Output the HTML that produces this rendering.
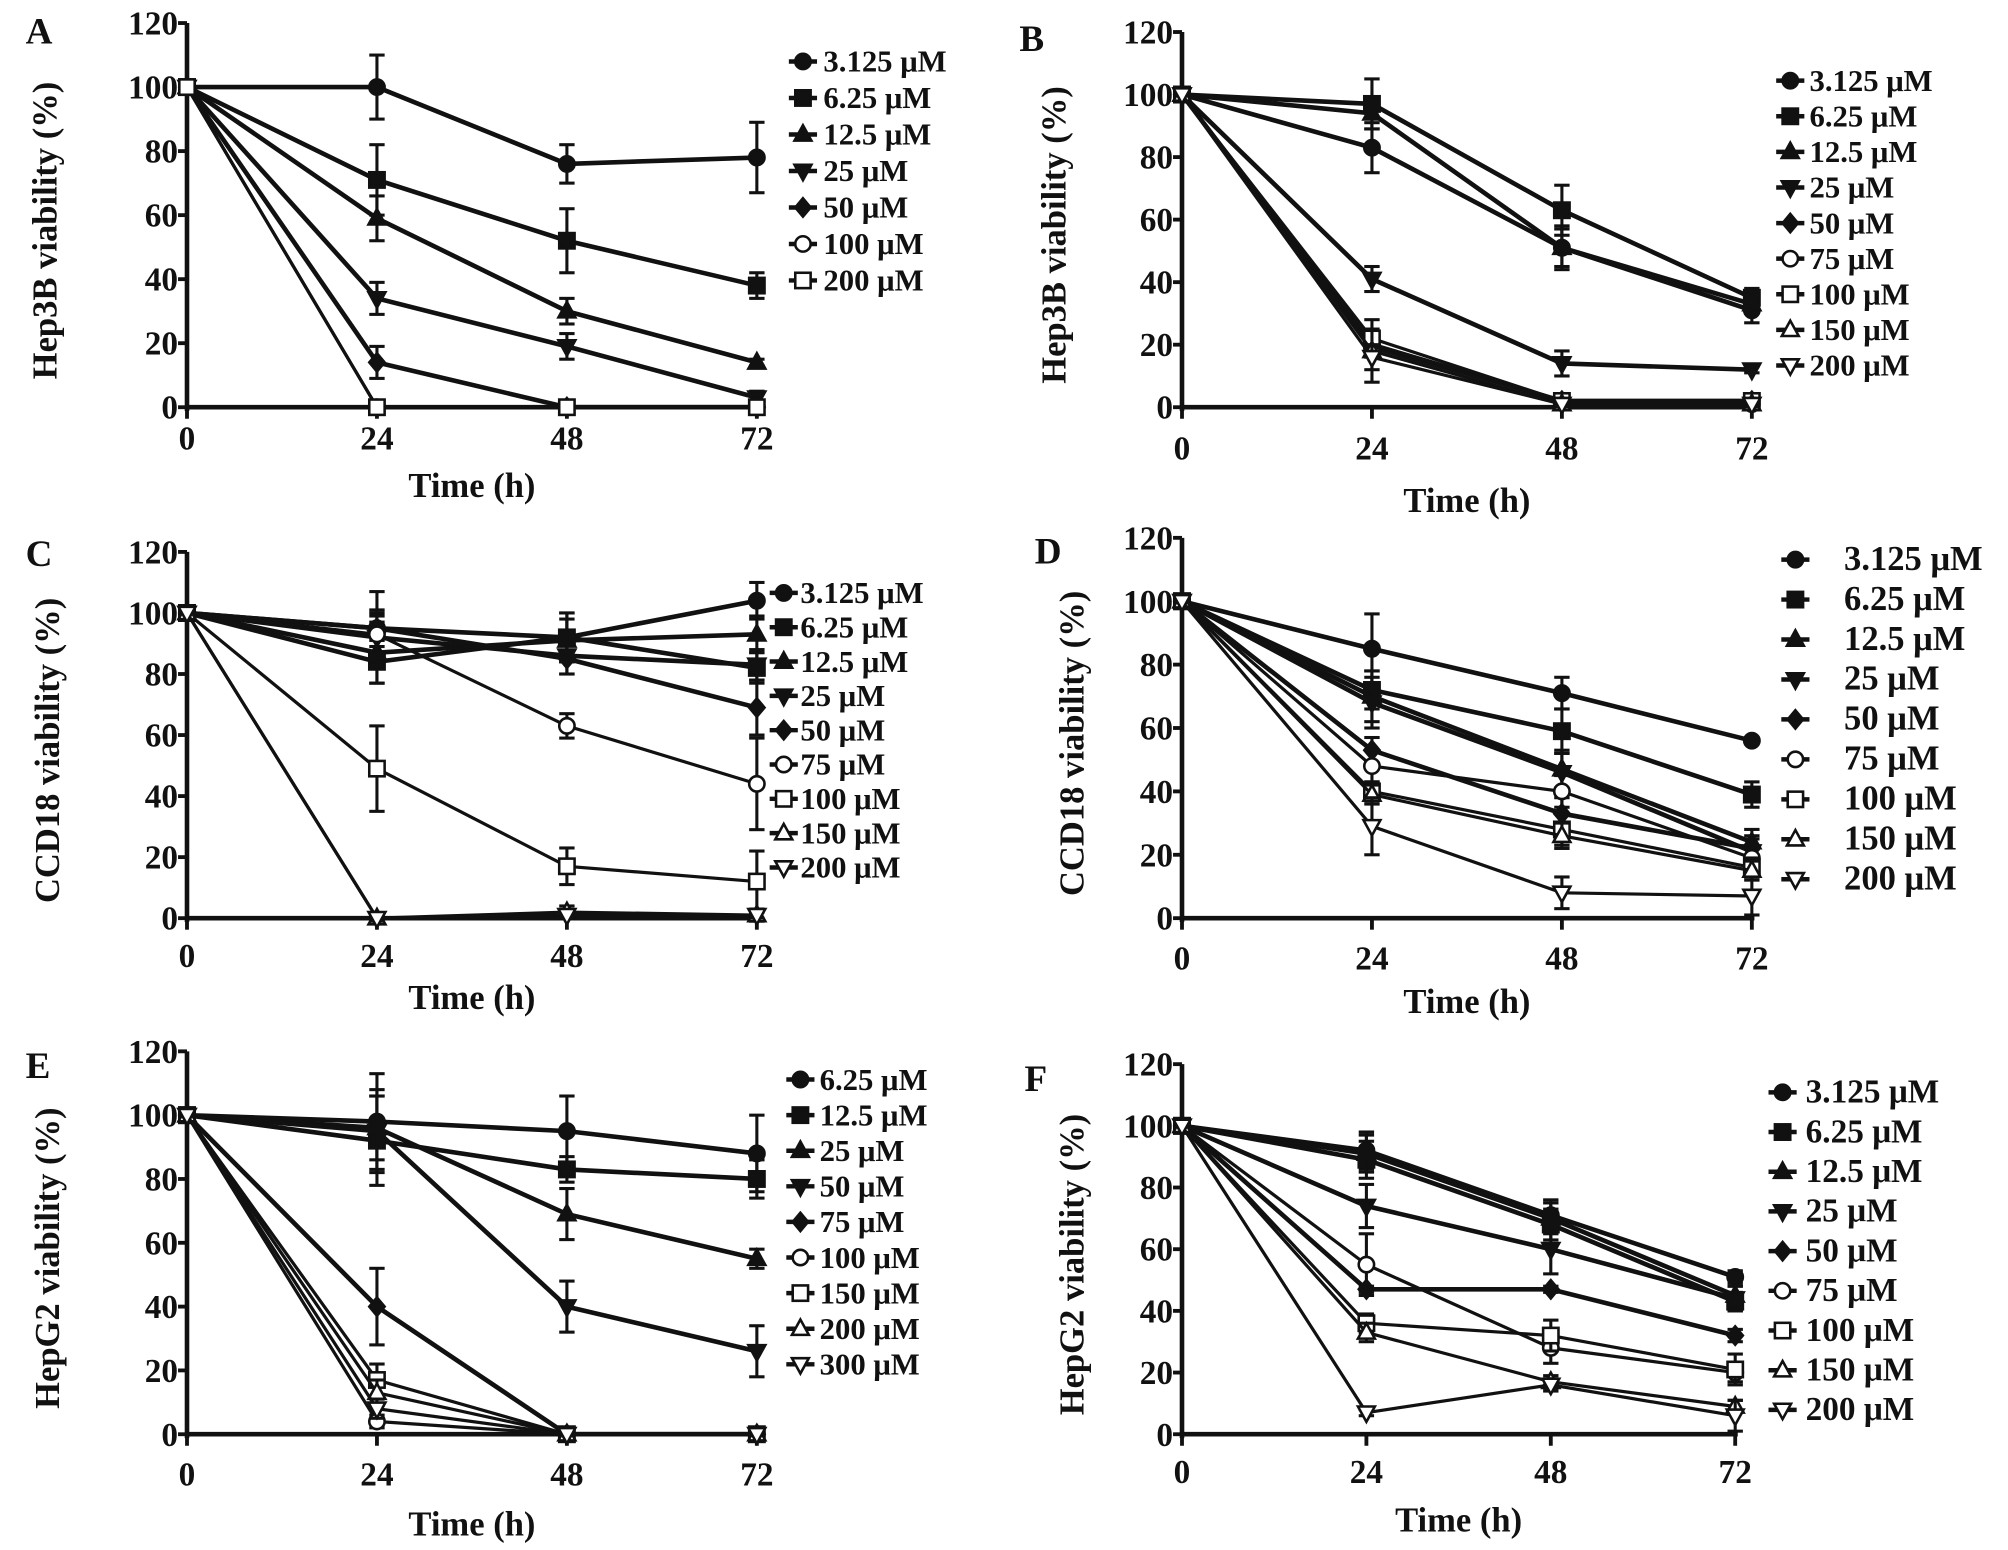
<!DOCTYPE html>
<html><head><meta charset="utf-8"><style>
html,body{margin:0;padding:0;background:#fff;}
svg{display:block;}
text{font-family:"Liberation Serif","Times New Roman",serif;font-weight:bold;fill:#111;}
</style></head><body>
<svg id="fig" width="2008" height="1550" viewBox="0 0 1568 1210.4" xmlns="http://www.w3.org/2000/svg"></svg>
<script>
const timePoints = [0, 24, 48, 72];
const yTicks = [0, 20, 40, 60, 80, 100, 120];
const xTickLabels = ["0", "24", "48", "72"];

const aLabels = ["3.125 μM","6.25 μM","12.5 μM","25 μM","50 μM","100 μM","200 μM"];
const aValues = [[100,100,76,78],[100,71,52,38],[100,59,30,14],[100,34,19,3],[100,14,0,0],[100,0,0,0],[100,0,0,0]];
const aErrors = [[0,10,6,11],[0,11,10,4],[0,7,4,1],[0,5,4,2],[0,5,1,1],[0,0,0,0],[0,0,0,0]];
const aMarkers = ["circle","square","tri","dtri","diamond","ocircle","osquare"];

const bLabels = ["3.125 μM","6.25 μM","12.5 μM","25 μM","50 μM","75 μM","100 μM","150 μM","200 μM"];
const bValues = [[100,83,51,31],[100,97,63,35],[100,94,51,33],[100,41,14,12],[100,20,2,2],[100,19,2,1],[100,22,2,2],[100,18,1,1],[100,16,1,1]];
const bErrors = [[0,8,7,4],[0,8,8,3],[0,5,6,3],[0,4,4,1],[0,3,1,1],[0,3,1,1],[0,3,1,1],[0,10,1,1],[0,4,1,1]];
const bMarkers = ["circle","square","tri","dtri","diamond","ocircle","osquare","otri","odtri"];

const cLabels = ["3.125 μM","6.25 μM","12.5 μM","25 μM","50 μM","75 μM","100 μM","150 μM","200 μM"];
const cValues = [[100,95,92,104],[100,84,92,82],[100,87,91,93],[100,92,86,83],[100,95,85,69],[100,93,63,44],[100,49,17,12],[100,0,2,1],[100,0,1,1]];
const cErrors = [[0,12,8,6],[0,7,8,5],[0,10,7,6],[0,8,6,5],[0,6,5,9],[0,6,4,15],[0,14,6,10],[0,1,2,2],[0,1,1,1]];
const cMarkers = ["circle","square","tri","dtri","diamond","ocircle","osquare","otri","odtri"];

const dLabels = ["3.125 μM","6.25 μM","12.5 μM","25 μM","50 μM","75 μM","100 μM","150 μM","200 μM"];
const dValues = [[100,85,71,56],[100,72,59,39],[100,70,47,24],[100,68,46,21],[100,53,33,22],[100,48,40,19],[100,40,28,16],[100,39,26,15],[100,29,8,7]];
const dErrors = [[0,11,5,1],[0,6,7,4],[0,8,6,4],[0,8,6,4],[0,4,5,4],[0,5,5,4],[0,3,5,3],[0,3,4,3],[0,9,5,6]];
const dMarkers = ["circle","square","tri","dtri","diamond","ocircle","osquare","otri","odtri"];

const eLabels = ["6.25 μM","12.5 μM","25 μM","50 μM","75 μM","100 μM","150 μM","200 μM","300 μM"];
const eValues = [[100,98,95,88],[100,92,83,80],[100,96,69,55],[100,95,40,26],[100,40,0,0],[100,4,0,0],[100,17,0,0],[100,13,0,0],[100,8,0,0]];
const eErrors = [[0,15,11,12],[0,14,4,6],[0,10,8,3],[0,13,8,8],[0,12,1,1],[0,2,0,0],[0,5,0,0],[0,4,0,0],[0,3,0,0]];
const eMarkers = ["circle","square","tri","dtri","diamond","ocircle","osquare","otri","odtri"];

const fLabels = ["3.125 μM","6.25 μM","12.5 μM","25 μM","50 μM","75 μM","100 μM","150 μM","200 μM"];
const fValues = [[100,92,71,51],[100,89,68,43],[100,91,70,45],[100,74,60,44],[100,47,47,32],[100,55,28,20],[100,36,32,21],[100,33,17,9],[100,7,16,6]];
const fErrors = [[0,6,5,2],[0,6,5,3],[0,6,5,3],[0,7,8,4],[0,1,1,2],[0,10,5,3],[0,3,5,5],[0,3,2,2],[0,1,2,5]];
const fMarkers = ["circle","square","tri","dtri","diamond","ocircle","osquare","otri","odtri"];

const panels = [
 {id:"a",letter:"A",ylabel:"Hep3B viability (%)",labels:aLabels,values:aValues,errors:aErrors,markers:aMarkers,
  x0:146,x1:591,y0:318,y120:18,lx:44,tickY:351,titleY:388,letX:20,letY:34,legX:627,legTx:643,legY:48,legDy:28.5,legFs:24},
 {id:"b",letter:"B",ylabel:"Hep3B viability (%)",labels:bLabels,values:bValues,errors:bErrors,markers:bMarkers,
  x0:923,x1:1368,y0:318,y120:25,lx:832,tickY:359,titleY:400,letX:796,letY:40,legX:1398,legTx:1413,legY:63,legDy:27.8,legFs:24},
 {id:"c",letter:"C",ylabel:"CCD18 viability (%)",labels:cLabels,values:cValues,errors:cErrors,markers:cMarkers,
  x0:146,x1:591,y0:717,y120:431,lx:46,tickY:755,titleY:788,letX:20,letY:442,legX:612,legTx:625,legY:463,legDy:26.8,legFs:24},
 {id:"d",letter:"D",ylabel:"CCD18 viability (%)",labels:dLabels,values:dValues,errors:dErrors,markers:dMarkers,
  x0:923,x1:1368,y0:717,y120:420,lx:846,tickY:757,titleY:791,letX:808,letY:440,legX:1402,legTx:1440,legY:437,legDy:31.2,legFs:27},
 {id:"e",letter:"E",ylabel:"HepG2 viability (%)",labels:eLabels,values:eValues,errors:eErrors,markers:eMarkers,
  x0:146,x1:591,y0:1120,y120:821,lx:46,tickY:1160,titleY:1199,letX:20,letY:842,legX:625,legTx:640,legY:843,legDy:27.8,legFs:24},
 {id:"f",letter:"F",ylabel:"HepG2 viability (%)",labels:fLabels,values:fValues,errors:fErrors,markers:fMarkers,
  x0:923,x1:1355,y0:1120,y120:831,lx:846,tickY:1158,titleY:1196,letX:800,letY:852,legX:1392,legTx:1410,legY:853,legDy:31,legFs:26}
];

const NS = "http://www.w3.org/2000/svg";
const svg = document.getElementById("fig");
function mk(tag, attrs, parent){const e=document.createElementNS(NS,tag);for(const k in attrs)e.setAttribute(k,attrs[k]);parent.appendChild(e);return e;}

function drawMarker(g, type, cx, cy, r){
  const open = type.startsWith("o");
  const fill = open ? "#fff" : "#111";
  const base = open ? type.slice(1) : type;
  const st = {fill:fill, stroke:"#111", "stroke-width":2};
  let m;
  if(base==="circle"){m=mk("circle",Object.assign({cx:cx,cy:cy,r:r},st),g);}
  else if(base==="square"){m=mk("rect",Object.assign({x:cx-r,y:cy-r,width:2*r,height:2*r},st),g);}
  else if(base==="tri"){m=mk("polygon",Object.assign({points:`${cx},${cy-r*1.2} ${cx-r*1.1},${cy+r*0.8} ${cx+r*1.1},${cy+r*0.8}`},st),g);}
  else if(base==="dtri"){m=mk("polygon",Object.assign({points:`${cx},${cy+r*1.2} ${cx-r*1.1},${cy-r*0.8} ${cx+r*1.1},${cy-r*0.8}`},st),g);}
  else {m=mk("polygon",Object.assign({points:`${cx},${cy-r*1.2} ${cx-r},${cy} ${cx},${cy+r*1.2} ${cx+r},${cy}`},st),g);}
  return m;
}

panels.forEach(p=>{
  const xs = t => p.x0 + (p.x1-p.x0)*t/72;
  const ys = v => p.y0 - (p.y0-p.y120)*v/120;
  const g = mk("g",{},svg);
  
  

  const let_ = mk("text",{x:p.letX,y:p.letY,"font-size":29},g);
  let_.textContent = p.letter;
  
  

  const yax = mk("line",{x1:p.x0,y1:p.y120,x2:p.x0,y2:p.y0+3,stroke:"#111","stroke-width":3.6},g);
  
  
  const xax = mk("line",{x1:p.x0-1,y1:p.y0,x2:p.x1+2,y2:p.y0,stroke:"#111","stroke-width":3.6},g);
  
  

  yTicks.forEach(v=>{
    mk("line",{x1:p.x0-7,y1:ys(v),x2:p.x0,y2:ys(v),stroke:"#111","stroke-width":3},g);
    const t = mk("text",{x:p.x0-7,y:ys(v)+9,"font-size":26,"text-anchor":"end"},g);
    t.textContent = String(v);
    
    
  });
  timePoints.forEach((tp,i)=>{
    mk("line",{x1:xs(tp),y1:p.y0,x2:xs(tp),y2:p.y0+9,stroke:"#111","stroke-width":3},g);
    const t = mk("text",{x:xs(tp),y:p.tickY,"font-size":26,"text-anchor":"middle"},g);
    t.textContent = xTickLabels[i];
    
    
  });
  const xt = mk("text",{x:(p.x0+p.x1)/2,y:p.titleY,"font-size":27,"text-anchor":"middle"},g);
  xt.textContent = "Time (h)";
  
  
  const ym = (p.y0+p.y120)/2 + 12;
  const yt = mk("text",{x:p.lx,y:ym,"font-size":27,"text-anchor":"middle",transform:`rotate(-90 ${p.lx} ${ym})`},g);
  yt.textContent = p.ylabel;
  
  

  p.values.forEach((vals,si)=>{
    const sg = mk("g",{},g);
    
    
    const pts = vals.map((v,i)=>`${xs(timePoints[i])},${ys(v)}`).join(" ");
    const open = p.markers[si].startsWith("o");
    mk("polyline",{points:pts,fill:"none",stroke:"#111","stroke-width":open?2.5:3.6},sg);
    vals.forEach((v,i)=>{
      const e = p.errors[si][i];
      if(e>0){
        const x=xs(timePoints[i]);
        mk("line",{x1:x,y1:ys(v+e),x2:x,y2:ys(v-e),stroke:"#111","stroke-width":2.4},sg);
        mk("line",{x1:x-6,y1:ys(v+e),x2:x+6,y2:ys(v+e),stroke:"#111","stroke-width":2.4},sg);
        mk("line",{x1:x-6,y1:ys(v-e),x2:x+6,y2:ys(v-e),stroke:"#111","stroke-width":2.4},sg);
      }
      const m = drawMarker(sg,p.markers[si],xs(timePoints[i]),ys(v),6);
      
      
    });
  });

  const lg = mk("g",{},g);
  
  
  p.labels.forEach((lab,i)=>{
    const y = p.legY + i*p.legDy;
    const eg = mk("g",{},lg);
    
    
    mk("line",{x1:p.legX-11,y1:y,x2:p.legX+11,y2:y,stroke:"#111","stroke-width":3.5},eg);
    drawMarker(eg,p.markers[i],p.legX,y,6);
    const t = mk("text",{x:p.legTx,y:y+8,"font-size":p.legFs},eg);
    t.textContent = lab;
  });
});
</script>
</body></html>
